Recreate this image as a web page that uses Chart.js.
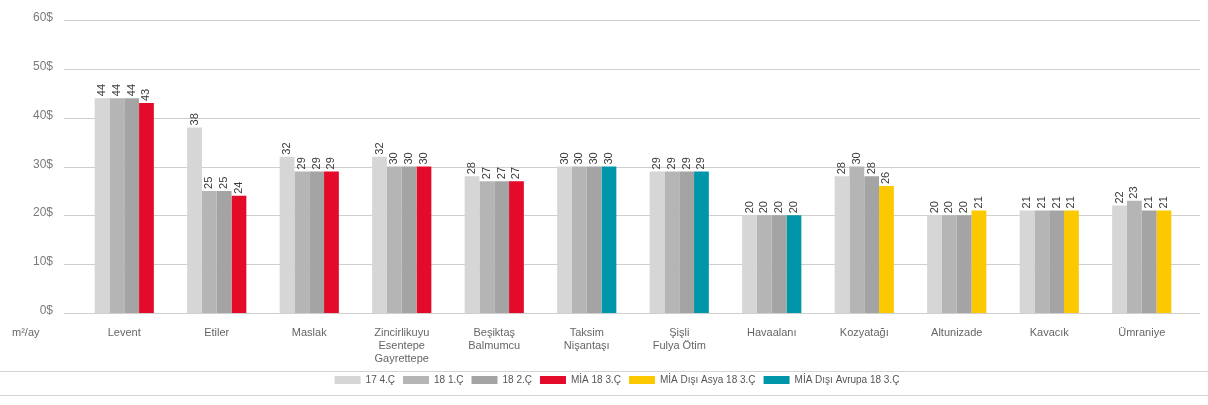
<!DOCTYPE html>
<html><head><meta charset="utf-8">
<script src="https://cdn.jsdelivr.net/npm/chart.js@4.4.1/dist/chart.umd.min.js"></script>
<style>html,body{margin:0;padding:0;background:#fff}#wrap{width:1208px;height:405px;position:relative}</style>
</head><body><div id="wrap"><canvas id="c"></canvas></div>
<script>
const categories = [["Levent"],["Etiler"],["Maslak"],["Zincirlikuyu","Esentepe","Gayrettepe"],["Beşiktaş","Balmumcu"],["Taksim","Nişantaşı"],["Şişli","Fulya Ötim"],["Havaalanı"],["Kozyatağı"],["Altunizade"],["Kavacık"],["Ümraniye"]];
const seriesNames = ["17 4.Ç","18 1.Ç","18 2.Ç","MİA 18 3.Ç","MİA Dışı Asya 18 3.Ç","MİA Dışı Avrupa 18 3.Ç"];
const q17_4 = [44,38,32,32,28,30,29,20,28,20,21,22];
const q18_1 = [44,25,29,30,27,30,29,20,30,20,21,23];
const q18_2 = [44,25,29,30,27,30,29,20,28,20,21,21];
const mia18_3 = [43,24,29,30,27,null,null,null,null,null,null,null];
const asya18_3 = [null,null,null,null,null,null,null,null,26,21,21,21];
const avrupa18_3 = [null,null,null,null,null,30,29,20,null,null,null,null];
const yTickValues = [0,10,20,30,40,50,60];
const yTickLabels = ["0$","10$","20$","30$","40$","50$","60$"];
const unitLabel = "m²/ay";

const colors = ["#d6d6d6","#b5b5b5","#a4a4a4","#e30a2a","#fcc800","#0096aa"];
const allSeries = [q17_4,q18_1,q18_2,mia18_3,asya18_3,avrupa18_3];
const stacks = ["a","b","c","d","d","d"];

const datasets = allSeries.map((d,i)=>({
  label: seriesNames[i], data: d, backgroundColor: colors[i], stack: stacks[i],
  categoryPercentage: 0.64, barPercentage: 1.0, borderWidth: 0
}));

const decor = {
  id:'decor',
  beforeDatasetsDraw(chart){
    const ctx = chart.ctx, y = chart.scales.y;
    ctx.save();
    ctx.strokeStyle = '#cfcfcf'; ctx.lineWidth = 1;
    ctx.font = '12px "Liberation Sans", Arial, sans-serif';
    ctx.fillStyle = '#7a7a7a'; ctx.textAlign = 'right'; ctx.textBaseline = 'middle';
    yTickValues.forEach((v,k)=>{
      const py = Math.round(y.getPixelForValue(v))+0.5;
      ctx.beginPath(); ctx.moveTo(64,py); ctx.lineTo(1200,py); ctx.stroke();
      ctx.fillText(yTickLabels[k], 53, py-3);
    });
    ctx.restore();
  },
  afterDatasetsDraw(chart){
    const ctx = chart.ctx;
    ctx.save();
    ctx.font = '11px "Liberation Sans", Arial, sans-serif';
    ctx.fillStyle = '#3a3a3a';
    ctx.textAlign = 'left'; ctx.textBaseline = 'middle';
    chart.data.datasets.forEach((ds,di)=>{
      const meta = chart.getDatasetMeta(di);
      meta.data.forEach((el,i)=>{
        const v = ds.data[i];
        if (v===null || v===undefined) return;
        ctx.save();
        ctx.translate(el.x, el.y-2);
        ctx.rotate(-Math.PI/2);
        ctx.fillText(String(v),0,0);
        ctx.restore();
      });
    });
    ctx.font = '11px "Liberation Sans", Arial, sans-serif';
    ctx.fillStyle = '#666';
    ctx.textAlign = 'left'; ctx.textBaseline = 'top';
    ctx.fillText(unitLabel, 12, chart.chartArea.bottom + 14);
    ctx.strokeStyle = '#d4d4d4'; ctx.lineWidth = 1;
    [371.5, 395.5].forEach(py=>{ctx.beginPath(); ctx.moveTo(0,py); ctx.lineTo(1208,py); ctx.stroke();});
    ctx.restore();
  }
};

new Chart(document.getElementById('c'), {
  type:'bar',
  data:{labels: categories, datasets},
  plugins:[decor],
  options:{
    responsive:true, maintainAspectRatio:false, animation:false,
    layout:{padding:{top:20,right:20,left:46,bottom:10}},
    plugins:{
      legend:{position:'bottom', labels:{boxWidth:26, boxHeight:8, font:{size:10, family:'"Liberation Sans", Arial, sans-serif'}, color:'#555', padding:8}},
      tooltip:{enabled:false}
    },
    scales:{
      x:{
        grid:{display:false, drawTicks:false}, border:{display:false},
        ticks:{font:{size:11, family:'"Liberation Sans", Arial, sans-serif'}, color:'#666', padding:13, maxRotation:0, autoSkip:false},
        afterFit(s){ s.height = 54; }
      },
      y:{
        min:0, max:60,
        grid:{display:false, drawTicks:false}, border:{display:false},
        ticks:{display:false, stepSize:10},
        afterFit(s){ s.width = 32; }
      }
    }
  }
});
</script></body></html>
